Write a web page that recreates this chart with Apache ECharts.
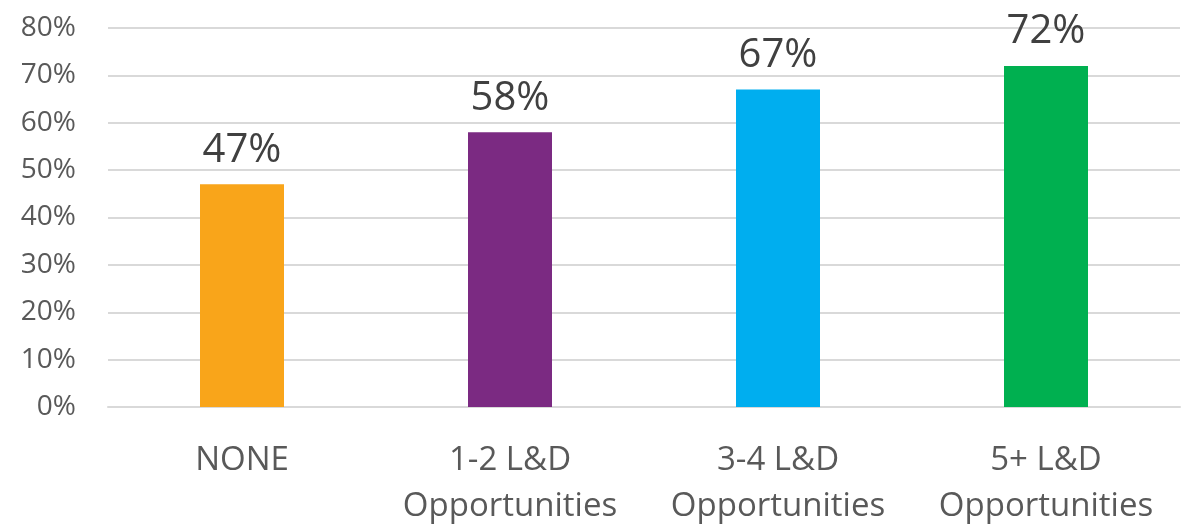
<!DOCTYPE html>
<html>
<head>
    <meta charset="utf-8">
    <title>ECharts</title>
    <script src="https://cdn.jsdelivr.net/npm/echarts@6/dist/echarts.min.js"></script>
</head>
<body style="margin:0">
<div id="main" style="width: 1193px;height:530px;"></div>
<script type="text/javascript">
    // categories and values
    var categories = ['NONE', '1-2 L&D\nOpportunities', '3-4 L&D\nOpportunities', '5+ L&D\nOpportunities']
    var values = [47, 58, 67, 72]
    var colors = ['#F9A51A', '#7B2A82', '#00AEEF', '#00B050']

    var myChart = echarts.init(document.getElementById('main'));

    var option = {
        animation: false,
        textStyle: {fontFamily: 'Open Sans'},
        grid: {left: 108, right: 13, top: 28, bottom: 122},
        xAxis: {
            type: 'category',
            data: categories,
            axisTick: {show: false},
            axisLine: {lineStyle: {color: '#d9d9d9', width: 2}},
            axisLabel: {
                color: '#595959', fontSize: 33, lineHeight: 46, margin: 31,
                fontFamily: 'Open Sans', interval: 0
            }
        },
        yAxis: {
            type: 'value',
            min: 0, max: 80, interval: 10,
            axisLabel: {
                color: '#595959', fontSize: 28, margin: 32,
                fontFamily: 'Open Sans',
                formatter: '{value}%'
            },
            splitLine: {lineStyle: {color: '#d9d9d9', width: 2}}
        },
        series: [{
            type: 'bar',
            barWidth: 84,
            data: values.map(function (v, i) {
                return {value: v, itemStyle: {color: colors[i]}}
            }),
            label: {
                show: true, position: 'top', distance: 14,
                color: '#404040', fontSize: 40, fontFamily: 'Open Sans',
                formatter: '{c}%'
            }
        }]
    };

    myChart.setOption(option)
</script>
</body>
</html>
